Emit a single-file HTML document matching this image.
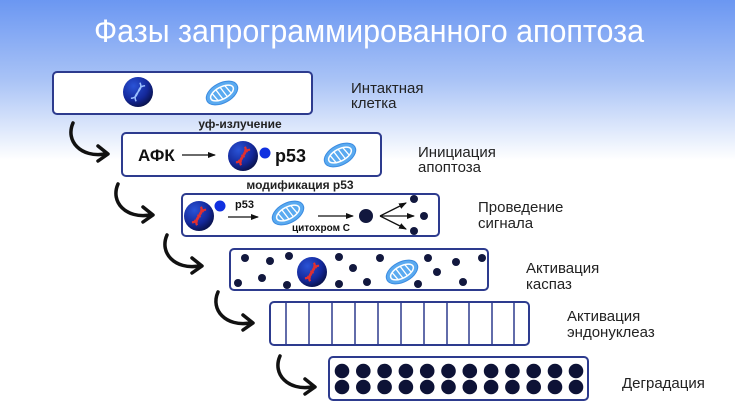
<!DOCTYPE html>
<html><head><meta charset="utf-8"><style>
html,body{margin:0;padding:0;width:735px;height:413px;overflow:hidden;background:#fff}
svg{display:block}
text{font-family:"Liberation Sans",sans-serif}
</style></head><body>
<svg width="735" height="413" viewBox="0 0 735 413" xmlns="http://www.w3.org/2000/svg">
<defs>
<linearGradient id="bg" x1="0" y1="0" x2="0" y2="1">
<stop offset="0" stop-color="#6b97f2"/><stop offset="0.5" stop-color="#a9c3f6"/><stop offset="1" stop-color="#ffffff"/>
</linearGradient>
<radialGradient id="nuc" cx="0.35" cy="0.3" r="0.8">
<stop offset="0" stop-color="#2a53d6"/><stop offset="0.6" stop-color="#14289a"/><stop offset="1" stop-color="#070d3a"/>
</radialGradient>
<g id="mito">
<ellipse cx="0" cy="0" rx="17" ry="10" fill="#5aaaf0" stroke="#3a8ae0" stroke-width="1"/>
<ellipse cx="0" cy="0" rx="12.5" ry="6" fill="none" stroke="#fff" stroke-width="1.5"/>
<path d="M-9,-4 L-7,5 M-4,-6 L-2,6 M1,-6 L3,6 M6,-5 L8,4" stroke="#fff" stroke-width="1.3"/>
</g>
<g id="dna" transform="rotate(30)"><path d="M-3,-9 C5,-4 -5,4 3,9 M3,-9 C-5,-4 5,4 -3,9" stroke="#e03030" stroke-width="2.2" fill="none"/><path d="M-2,-6 L2,-6 M-2,0 L2,0 M-2,6 L2,6" stroke="#e03030" stroke-width="1.5"/></g>
<g id="dnaw" transform="rotate(30)"><path d="M-3,-9 C5,-4 -5,4 3,9 M3,-9 C-5,-4 5,4 -3,9" stroke="#9cc0ff" stroke-width="1.5" fill="none"/></g>
<g id="arr"><path d="M0,0 C-8,18 8,35 32,31" stroke="#111" stroke-width="3.5" fill="none" stroke-linecap="round"/><path d="M25,23 L35,31 L25,38" stroke="#111" stroke-width="3.5" fill="none" stroke-linecap="round" stroke-linejoin="round"/></g>
<marker id="ah" markerWidth="8" markerHeight="8" refX="7" refY="4" orient="auto" markerUnits="userSpaceOnUse"><path d="M0,1 L8,4 L0,7 Z" fill="#111"/></marker>
</defs>
<rect width="735" height="160" fill="url(#bg)"/>
<text x="369" y="42" text-anchor="middle" font-size="32" fill="#fff" textLength="550" lengthAdjust="spacingAndGlyphs">Фазы запрограммированного апоптоза</text>

<g fill="#fff" stroke="#2d3b8e" stroke-width="2">
<rect x="53" y="72" width="259" height="42" rx="4"/>
<rect x="122" y="133" width="259" height="43" rx="4"/>
<rect x="182" y="194" width="257" height="42" rx="4"/>
<rect x="230" y="249" width="258" height="41" rx="4"/>
<rect x="270" y="302" width="259" height="43" rx="4"/>
<rect x="329" y="357" width="259" height="43" rx="4"/>
</g>
<g stroke="#2d3b8e" stroke-width="1.5">
<line x1="286" y1="302" x2="286" y2="345"/><line x1="309" y1="302" x2="309" y2="345"/><line x1="332" y1="302" x2="332" y2="345"/><line x1="355" y1="302" x2="355" y2="345"/><line x1="378" y1="302" x2="378" y2="345"/><line x1="401" y1="302" x2="401" y2="345"/><line x1="424" y1="302" x2="424" y2="345"/><line x1="447" y1="302" x2="447" y2="345"/><line x1="469" y1="302" x2="469" y2="345"/><line x1="492" y1="302" x2="492" y2="345"/><line x1="514" y1="302" x2="514" y2="345"/>
</g>

<use href="#arr" x="73" y="123"/>
<use href="#arr" x="118" y="184"/>
<use href="#arr" x="167" y="235"/>
<use href="#arr" x="218" y="292"/>
<use href="#arr" x="280" y="356"/>

<!-- box1 -->
<circle cx="138" cy="92" r="15" fill="url(#nuc)"/><use href="#dnaw" x="138" y="92"/>
<use href="#mito" transform="translate(222,93) rotate(-28)"/>
<text x="240" y="128" text-anchor="middle" font-size="12" font-weight="bold" fill="#222">уф-излучение</text>
<!-- box2 -->
<text x="138" y="161" font-size="17" font-weight="bold" fill="#111">АФК</text>
<line x1="182" y1="155" x2="215" y2="155" stroke="#111" stroke-width="1.3" marker-end="url(#ah)"/>
<circle cx="243" cy="156" r="15" fill="url(#nuc)"/><use href="#dna" x="243" y="156"/>
<circle cx="265" cy="153" r="5.5" fill="#1030e0"/>
<text x="275" y="162" font-size="18" font-weight="bold" fill="#111">p53</text>
<use href="#mito" transform="translate(340,155) rotate(-28)"/>
<text x="300" y="189" text-anchor="middle" font-size="12" font-weight="bold" fill="#222">модификация р53</text>
<!-- box3 -->
<circle cx="199" cy="216" r="15" fill="url(#nuc)"/><use href="#dna" x="199" y="216"/>
<circle cx="220" cy="206" r="5.5" fill="#1030e0"/>
<text x="235" y="208" font-size="11" font-weight="bold" fill="#111">p53</text>
<line x1="228" y1="217" x2="258" y2="217" stroke="#111" stroke-width="1.3" marker-end="url(#ah)"/>
<use href="#mito" transform="translate(288,213) rotate(-28)"/>
<text x="292" y="231" font-size="10" font-weight="bold" fill="#111">цитохром С</text>
<line x1="318" y1="216" x2="353" y2="216" stroke="#111" stroke-width="1.3" marker-end="url(#ah)"/>
<circle cx="366" cy="216" r="7" fill="#12183e"/>
<g stroke="#111" stroke-width="1.3"><line x1="380" y1="216" x2="406" y2="203" marker-end="url(#ah)"/><line x1="380" y1="216" x2="414" y2="216" marker-end="url(#ah)"/><line x1="380" y1="216" x2="406" y2="229" marker-end="url(#ah)"/></g>
<g fill="#12183e"><circle cx="414" cy="199" r="4"/><circle cx="424" cy="216" r="4"/><circle cx="414" cy="231" r="4"/></g>
<!-- box4 -->
<g fill="#12183e">
<circle cx="245" cy="258" r="4"/><circle cx="270" cy="261" r="4"/><circle cx="289" cy="256" r="4"/><circle cx="238" cy="283" r="4"/><circle cx="262" cy="278" r="4"/><circle cx="287" cy="285" r="4"/><circle cx="339" cy="257" r="4"/><circle cx="353" cy="268" r="4"/><circle cx="339" cy="284" r="4"/><circle cx="367" cy="282" r="4"/><circle cx="380" cy="258" r="4"/><circle cx="428" cy="258" r="4"/><circle cx="437" cy="272" r="4"/><circle cx="418" cy="284" r="4"/><circle cx="456" cy="262" r="4"/><circle cx="482" cy="258" r="4"/><circle cx="463" cy="282" r="4"/>
</g>
<circle cx="312" cy="272" r="15" fill="url(#nuc)"/><use href="#dna" x="312" y="272"/>
<use href="#mito" transform="translate(402,272) rotate(-28)"/>
<!-- box6 dots -->
<g fill="#0d1236">
<circle cx="342" cy="371" r="7.3"/><circle cx="363.3" cy="371" r="7.3"/><circle cx="384.6" cy="371" r="7.3"/><circle cx="405.9" cy="371" r="7.3"/><circle cx="427.2" cy="371" r="7.3"/><circle cx="448.5" cy="371" r="7.3"/><circle cx="469.8" cy="371" r="7.3"/><circle cx="491.1" cy="371" r="7.3"/><circle cx="512.4" cy="371" r="7.3"/><circle cx="533.7" cy="371" r="7.3"/><circle cx="555" cy="371" r="7.3"/><circle cx="576" cy="371" r="7.3"/>
<circle cx="342" cy="387" r="7.3"/><circle cx="363.3" cy="387" r="7.3"/><circle cx="384.6" cy="387" r="7.3"/><circle cx="405.9" cy="387" r="7.3"/><circle cx="427.2" cy="387" r="7.3"/><circle cx="448.5" cy="387" r="7.3"/><circle cx="469.8" cy="387" r="7.3"/><circle cx="491.1" cy="387" r="7.3"/><circle cx="512.4" cy="387" r="7.3"/><circle cx="533.7" cy="387" r="7.3"/><circle cx="555" cy="387" r="7.3"/><circle cx="576" cy="387" r="7.3"/>
</g>
<!-- labels -->
<g font-size="15" fill="#222">
<text x="351" y="93">Интактная</text><text x="351" y="108">клетка</text>
<text x="418" y="157">Инициация</text><text x="418" y="172">апоптоза</text>
<text x="478" y="212">Проведение</text><text x="478" y="228">сигнала</text>
<text x="526" y="273">Активация</text><text x="526" y="289">каспаз</text>
<text x="567" y="321">Активация</text><text x="567" y="337">эндонуклеаз</text>
<text x="622" y="388">Деградация</text>
</g>
</svg>
</body></html>
